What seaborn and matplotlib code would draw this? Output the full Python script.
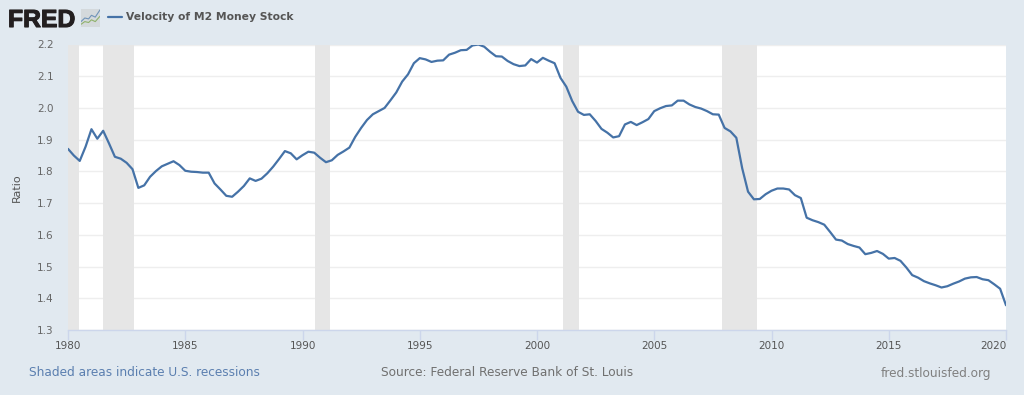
import numpy as np
import pandas as pd
import seaborn as sns
import matplotlib.pyplot as plt
from matplotlib import patheffects

# Velocity of M2, quarterly values, 1980 Q1 to 2020 Q1
velocity = [
    1.871, 1.850, 1.833, 1.878,  1.933, 1.903, 1.928, 1.888,
    1.846, 1.840, 1.827, 1.807,  1.748, 1.756, 1.783, 1.801,
    1.816, 1.824, 1.832, 1.820,  1.802, 1.799, 1.798, 1.796,
    1.796, 1.762, 1.743, 1.723,  1.720, 1.736, 1.754, 1.778,
    1.770, 1.777, 1.794, 1.815,  1.839, 1.864, 1.857, 1.838,
    1.851, 1.862, 1.859, 1.843,  1.829, 1.835, 1.852, 1.863,
    1.875, 1.909, 1.937, 1.962,  1.980, 1.990, 2.000, 2.024,
    2.049, 2.083, 2.106, 2.141,  2.157, 2.153, 2.145, 2.149,
    2.150, 2.168, 2.174, 2.182,  2.183, 2.197, 2.200, 2.193,
    2.177, 2.163, 2.162, 2.148,  2.138, 2.132, 2.134, 2.154,
    2.143, 2.158, 2.149, 2.141,  2.095, 2.067, 2.022, 1.988,
    1.978, 1.980, 1.959, 1.934,  1.922, 1.907, 1.911, 1.948,
    1.956, 1.946, 1.955, 1.965,  1.990, 1.999, 2.006, 2.008,
    2.023, 2.023, 2.011, 2.003,  1.998, 1.990, 1.980, 1.979,
    1.937, 1.926, 1.906, 1.810,  1.736, 1.712, 1.713, 1.728,
    1.739, 1.746, 1.746, 1.743,  1.725, 1.716, 1.654, 1.646,
    1.640, 1.632, 1.609, 1.585,  1.582, 1.571, 1.565, 1.560,
    1.539, 1.543, 1.549, 1.540,  1.525, 1.527, 1.518, 1.497,
    1.473, 1.465, 1.454, 1.447,  1.441, 1.434, 1.438, 1.446,
    1.453, 1.462, 1.466, 1.467,  1.460, 1.457, 1.444, 1.430,
    1.378,
]
years = 1980 + np.arange(len(velocity)) / 4

recession_start = [1980.0, 1981.49, 1990.52, 2001.13, 2007.9]
recession_end = [1980.47, 1982.81, 1991.16, 2001.81, 2009.4]

x_ticks = [1980, 1985, 1990, 1995, 2000, 2005, 2010, 2015, 2020]
y_ticks = [1.3, 1.4, 1.5, 1.6, 1.7, 1.8, 1.9, 2.0, 2.1, 2.2]

bg = '#e1e9f0'
line_color = '#4572a7'
axis_color = '#ccd6eb'

sns.set_style('white')
plt.rcParams['font.family'] = ['DejaVu Sans']

df = pd.DataFrame({'year': years, 'velocity': velocity})

fig = plt.figure(figsize=(10.24, 3.95), dpi=100, facecolor=bg)
ax = fig.add_axes([68 / 1024, 1 - 330 / 395, 938 / 1024, 285.5 / 395])
ax.set_facecolor('white')

ax.grid(axis='y', color='#eeeeee', linewidth=1)
ax.set_axisbelow(True)
for start, end in zip(recession_start, recession_end):
    ax.axvspan(start, end, color='#e6e6e6', linewidth=0, zorder=1)

sns.lineplot(data=df, x='year', y='velocity', color=line_color, linewidth=1.6, ax=ax, zorder=3)

ax.set_xlim(1980, 2020)
ax.set_ylim(1.3, 2.2)
ax.set_xticks(x_ticks)
ax.set_yticks(y_ticks)
ax.set_yticklabels([f'{v:.1f}' for v in y_ticks])
ax.set_xlabel('')
ax.set_ylabel('Ratio', fontsize=8, color='#555555', labelpad=11)
ax.tick_params(axis='x', length=7, width=1, color=axis_color, labelsize=7.5, labelcolor='#555555', pad=1, bottom=True)
ax.tick_params(axis='y', length=0, labelsize=7.5, labelcolor='#666666', pad=10.5)
ax.get_xticklabels()[-1].set_ha('right')

for side in ['top', 'left', 'right']:
    ax.spines[side].set_visible(False)
ax.spines['bottom'].set_color(axis_color)
ax.spines['bottom'].set_linewidth(1)

# header: logo, little chart icon, legend key and series name
logo = fig.text(8 / 1024, 1 - 27 / 395, 'FRED', fontsize=17.8, fontweight='bold', family='Liberation Sans', color='#231f20')
logo.set_path_effects([patheffects.withStroke(linewidth=0.8, foreground='#231f20')])

icon = fig.add_axes([81 / 1024, 1 - 27 / 395, 19 / 1024, 18 / 395])
icon.set_facecolor('#d4d9dc')
icon.set_xlim(0, 10)
icon.set_ylim(0, 10)
icon.set_xticks([])
icon.set_yticks([])
for s in icon.spines.values():
    s.set_visible(False)
icon.plot([0, 2, 4, 5.5, 7.5, 10], [3, 5, 4.5, 6.5, 5.5, 9.5], color='#6f93b8', linewidth=0.8)
icon.plot([0, 2, 4, 5.5, 7.5, 10], [1.5, 3, 2.5, 4, 3, 6], color='#8fb26b', linewidth=0.8)

fig.add_artist(plt.Line2D([108 / 1024, 122 / 1024], [1 - 17 / 395, 1 - 17 / 395], color=line_color, linewidth=1.6))
fig.text(126 / 1024, 1 - 17 / 395, 'Velocity of M2 Money Stock', fontsize=7.75, fontweight='bold',
         color='#555555', va='center', ha='left')

# footer notes
fig.text(29 / 1024, 1 - 373 / 395, 'Shaded areas indicate U.S. recessions', fontsize=8.7, color='#5b7fb0', va='center')
fig.text(507.5 / 1024, 1 - 373 / 395, 'Source: Federal Reserve Bank of St. Louis', fontsize=8.7, color='#707070', va='center', ha='center')
fig.text(991 / 1024, 1 - 373 / 395, 'fred.stlouisfed.org', fontsize=8.7, color='#808080', va='center', ha='right')

fig.savefig('out.png', dpi=100, facecolor=bg)
